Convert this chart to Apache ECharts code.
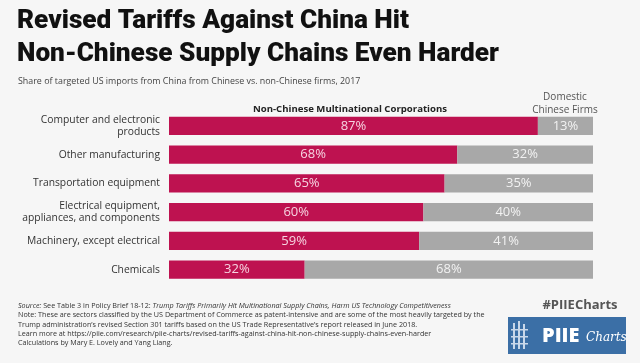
<!DOCTYPE html>
<html>
<head>
<meta charset="utf-8">
<script src="https://cdn.jsdelivr.net/npm/echarts@6/dist/echarts.min.js"></script>
<style>
html,body{margin:0;padding:0;background:#f6f6f6;}
#c{width:640px;height:363px;}
</style>
</head>
<body>
<div id="c"></div>
<script>
const categories = [
  "Computer and electronic\nproducts",
  "Other manufacturing",
  "Transportation equipment",
  "Electrical equipment,\nappliances, and components",
  "Machinery, except electrical",
  "Chemicals"
];
const nonChinese = [87, 68, 65, 60, 59, 32];
const chinese = [13, 32, 35, 40, 41, 68];
const seriesNames = ["Non-Chinese Multinational Corporations", "Domestic\nChinese Firms"];

const chart = echarts.init(document.getElementById('c'), null, {renderer: 'canvas'});
const footFont = '"Open Sans", sans-serif';
chart.setOption({
  backgroundColor: '#f6f6f6',
  animation: false,
  grid: {left: 169, right: 47, top: 111.5, bottom: 79},
  xAxis: {type: 'value', min: 0, max: 100, show: false},
  yAxis: {
    type: 'category', data: categories, inverse: true,
    axisLine: {show: false}, axisTick: {show: false},
    axisLabel: {
      margin: 9, color: '#333', fontSize: 10.3, lineHeight: 12,
      fontFamily: '"Open Sans", sans-serif', align: 'right'
    }
  },
  series: [
    {
      name: seriesNames[0], type: 'bar', stack: 'a', data: nonChinese,
      barCategoryGap: '37%',
      itemStyle: {color: '#be1250'},
      label: {show: true, position: 'inside', formatter: '{c}%', color: '#f6d3e0',
        fontSize: 13, fontFamily: '"Open Sans", sans-serif'}
    },
    {
      name: seriesNames[1], type: 'bar', stack: 'a', data: chinese,
      itemStyle: {color: '#a8a8a8'},
      label: {show: true, position: 'inside', formatter: '{c}%', color: '#f2f2f2',
        fontSize: 13, fontFamily: '"Open Sans", sans-serif'}
    }
  ],
  graphic: [
    {type: 'text', left: 17, top: 5, style: {
      text: 'Revised Tariffs Against China Hit\nNon-Chinese Supply Chains Even Harder',
      fill: '#111', font: '900 26.2px Roboto, sans-serif', lineHeight: 33}},
    {type: 'text', left: 18, top: 76.5, style: {
      text: 'Share of targeted US imports from China from Chinese vs. non-Chinese firms, 2017',
      fill: '#444', font: '8.9px "Open Sans", sans-serif'}},
    {type: 'text', x: 350, y: 109, style: {
      text: seriesNames[0], fill: '#222', font: 'bold 9.6px "Open Sans", sans-serif',
      align: 'center', verticalAlign: 'middle'}},
    {type: 'text', x: 565, y: 103.5, style: {
      text: seriesNames[1], fill: '#555', font: '10px "Open Sans", sans-serif',
      align: 'center', verticalAlign: 'middle', lineHeight: 12.5}},
    {type: 'text', left: 18, top: 301.5, style: {
      text: '{i|Source:} See Table 3 in Policy Brief 18-12: {i|Trump Tariffs Primarily Hit Multinational Supply Chains, Harm US Technology Competitiveness}\n' +
        'Note: These are sectors classified by the US Department of Commerce as patent-intensive and are some of the most heavily targeted by the\n' +
        'Trump administration\u2019s revised Section 301 tariffs based on the US Trade Representative\u2019s report released in June 2018.\n' +
        'Learn more at https://piie.com/research/piie-charts/revised-tariffs-against-china-hit-non-chinese-supply-chains-even-harder\n' +
        'Calculations by Mary E. Lovely and Yang Liang.',
      fill: '#333', font: '7.2px ' + footFont, lineHeight: 9.2,
      rich: {i: {fontStyle: 'italic', fontSize: 7.2, fontFamily: '"Open Sans", sans-serif', fill: '#333'}}}},
    {type: 'text', x: 580, y: 305, style: {
      text: '#PIIECharts', fill: '#555', font: 'bold 13px "Open Sans", sans-serif',
      align: 'center', verticalAlign: 'middle'}},
    {type: 'rect', shape: {x: 508, y: 317, width: 118, height: 37}, style: {fill: '#3b6fa6'}},
    {type: 'group', children: [
      {type: 'rect', shape: {x: 513, y: 323, width: 2, height: 26}, style: {fill: '#c9d8ea'}},
      {type: 'rect', shape: {x: 518, y: 321, width: 2, height: 28}, style: {fill: '#c9d8ea'}},
      {type: 'rect', shape: {x: 523, y: 324, width: 2, height: 25}, style: {fill: '#c9d8ea'}},
      {type: 'rect', shape: {x: 511, y: 329, width: 17, height: 1.5}, style: {fill: '#c9d8ea'}},
      {type: 'rect', shape: {x: 511, y: 336, width: 17, height: 1.5}, style: {fill: '#c9d8ea'}},
      {type: 'rect', shape: {x: 511, y: 343, width: 17, height: 1.5}, style: {fill: '#c9d8ea'}}
    ]},
    {type: 'text', x: 542, y: 336, style: {
      text: 'PIIE', fill: '#fff', font: '900 20px "Open Sans", sans-serif',
      verticalAlign: 'middle'}},
    {type: 'text', x: 586, y: 338, style: {
      text: 'Charts', fill: '#fff', font: 'italic 12px "DejaVu Serif", serif',
      verticalAlign: 'middle'}}
  ]
});
</script>
</body>
</html>
